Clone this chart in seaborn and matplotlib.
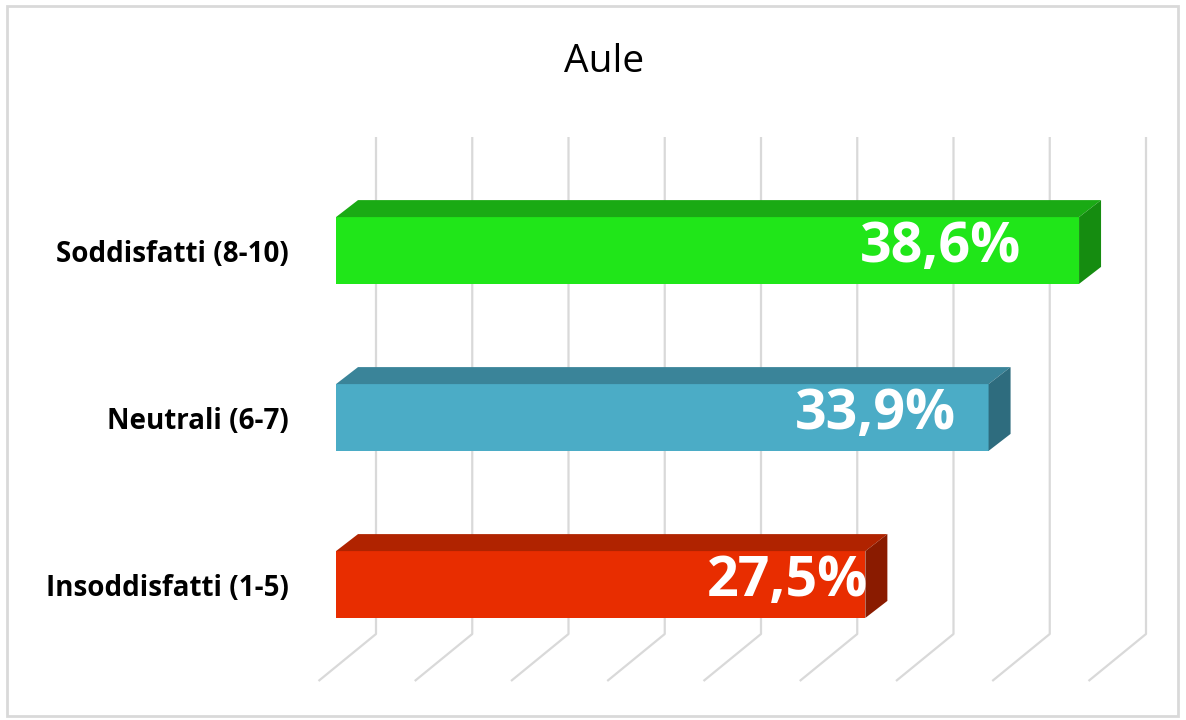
import matplotlib
matplotlib.use("Agg")
import matplotlib.pyplot as plt
from matplotlib.patches import Polygon, Rectangle
import seaborn as sns
import pandas as pd

# ---- data ----
categories = ["Soddisfatti (8-10)", "Neutrali (6-7)", "Insoddisfatti (1-5)"]
values = [38.6, 33.9, 27.5]
value_labels = ["38,6%", "33,9%", "27,5%"]
front_colors = ["#20E619", "#4BACC6", "#E82D00"]
top_colors = ["#1AAA14", "#3A8499", "#B02300"]
side_colors = ["#158C10", "#2E6C7E", "#8A1B00"]
grid_values = [0, 5, 10, 15, 20, 25, 30, 35, 40]
title = "Aule"

sns.set_theme(style="white")
plt.rcParams["font.family"] = ["Open Sans", "DejaVu Sans"]

W, H = 1186, 720
fig = plt.figure(figsize=(W / 100, H / 100), dpi=100)

# axes geometry (pixel based)
x0_px = 336          # front zero of the value axis
px_per_unit = 19.25  # pixels per percent
cat0_px = 250.5      # centre of first category
cat_step_px = 167.0  # distance between categories
ax = fig.add_axes([x0_px / W, 0, (W - x0_px) / W, 1])
ax.set_xlim(0, (W - x0_px) / px_per_unit)

df = pd.DataFrame({"cat": categories, "val": values})
sns.barplot(data=df, x="val", y="cat", hue="cat", palette=front_colors,
            orient="h", width=0.40, legend=False, ax=ax, zorder=3,
            linewidth=0, saturation=1)
ax.set_ylim((H - cat0_px) / cat_step_px, -cat0_px / cat_step_px)

# 3D depth offsets
dx = 22 / px_per_unit
dy = -17 / cat_step_px

# back-wall gridlines + floor
wall_dx = 40 / px_per_unit
grid_top = (137 - cat0_px) / cat_step_px
grid_bot = (634 - cat0_px) / cat_step_px
floor_y = (681 - cat0_px) / cat_step_px
floor_dx = -57.5 / px_per_unit
for g in grid_values:
    xb = g + wall_dx
    ax.plot([xb, xb, xb + floor_dx], [grid_top, grid_bot, floor_y],
            color="#D9D9D9", lw=1.6, zorder=1, solid_capstyle="butt", clip_on=False)

# top and side faces
for i, p in enumerate(ax.patches[:len(values)]):
    x, y, w, h = p.get_x(), p.get_y(), p.get_width(), p.get_height()
    top = Polygon([(x, y), (x + w, y), (x + w + dx, y + dy), (x + dx, y + dy)],
                  closed=True, facecolor=top_colors[i], edgecolor="none", zorder=3)
    side = Polygon([(x + w, y), (x + w, y + h), (x + w + dx, y + h + dy), (x + w + dx, y + dy)],
                   closed=True, facecolor=side_colors[i], edgecolor="none", zorder=3)
    ax.add_patch(top)
    ax.add_patch(side)

# value labels
for i, (v, lab) in enumerate(zip(values, value_labels)):
    ax.text(3.74 + 0.716 * v, i - 0.02, lab, ha="center", va="center",
            color="white", fontsize=40, fontweight="bold", zorder=5)

ax.set_xlabel("")
ax.set_ylabel("")
ax.set_xticks([])
ax.tick_params(axis="y", length=0, pad=34)
for t in ax.get_yticklabels():
    t.set_fontweight("bold")
    t.set_fontsize(20)
    t.set_color("#000000")
for s in ax.spines.values():
    s.set_visible(False)
ax.patch.set_alpha(0)

fig.text(604 / W, 1 - 62 / H, title, ha="center", va="center", fontsize=28, color="black")

# outer chart border
fig.add_artist(Rectangle((7 / W, 4 / H), 1171 / W, 710 / H, transform=fig.transFigure,
                         fill=False, edgecolor="#D9D9D9", lw=2, zorder=0))

fig.savefig("out.png", dpi=100, facecolor="white")
